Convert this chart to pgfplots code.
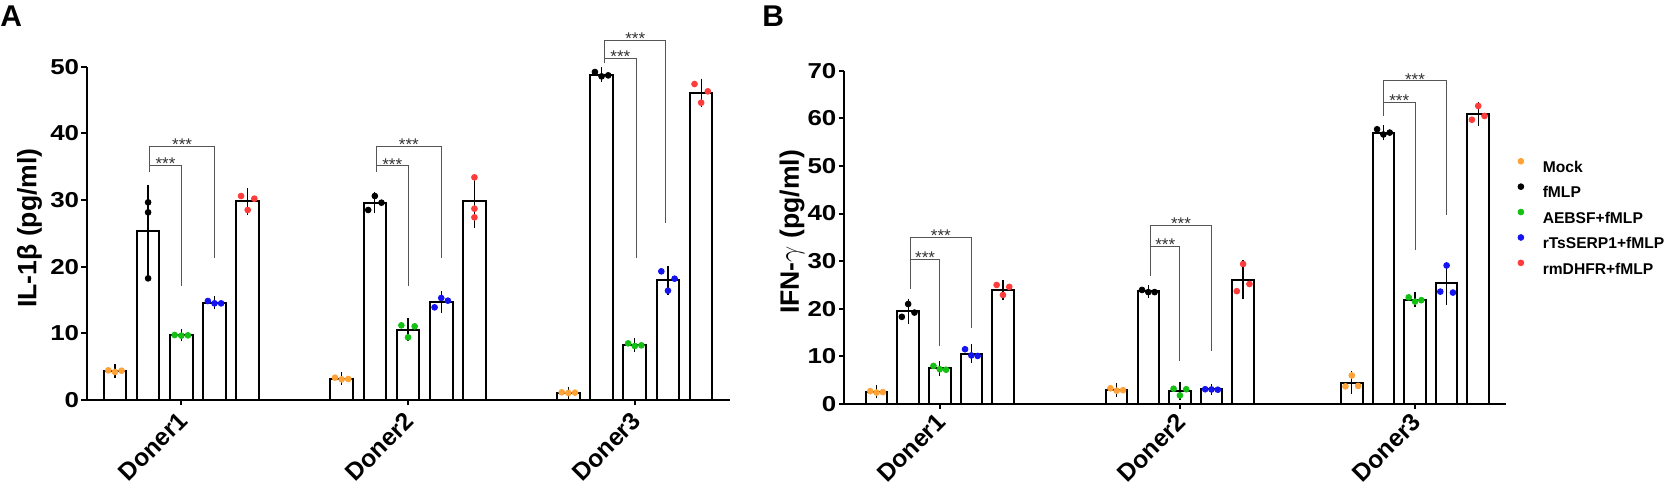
\documentclass[border=0pt]{standalone}
\usepackage{fontspec}
\setmainfont{Liberation Sans}
\newfontfamily\tickfont[FakeStretch=1.2]{Liberation Sans}
\usepackage{pgfplots}
\usepackage{pgfplotstable}
\pgfplotsset{compat=1.18}
\definecolor{cMock}{HTML}{FFA238}
\definecolor{cAEB}{HTML}{14C014}
\definecolor{cRTS}{HTML}{1414F0}
\definecolor{cRMD}{HTML}{FF3C3C}
\definecolor{cbr}{HTML}{555555}
\definecolor{cstar}{HTML}{333333}

% ---------- Panel A ----------
\pgfplotstableread{
x y e
0.85 4.35 0.2
1.85 25.4 6.1
2.85 9.7 0.1
3.85 14.6 0.2
4.85 29.8 1.2
7.68 3.2 0.15
8.68 29.6 0.8
9.68 10.55 0.95
10.68 14.7 0.8
11.68 29.85 3.2
14.51 1.1 0.1
15.51 48.8 0.3
16.51 8.25 0.2
17.51 17.95 1.35
18.51 46.1 1.3
}\barsA
\pgfplotstableread{
x y
0.65 4.45
0.85 4.2
1.05 4.4
7.48 3.35
7.68 3.1
7.88 3.15
14.31 1.15
14.51 1.05
14.71 1.1
}\mockA
\pgfplotstableread{
x y
1.85 29.65
1.85 28.15
1.85 18.25
8.48 28.5
8.68 30.6
8.88 29.6
15.31 49.2
15.51 48.55
15.71 48.7
}\fmlpA
\pgfplotstableread{
x y
2.65 9.75
2.85 9.65
3.05 9.7
9.48 11.2
9.68 9.4
9.88 11.05
16.31 8.5
16.51 8.1
16.71 8.2
}\aebA
\pgfplotstableread{
x y
3.65 14.85
3.85 14.5
4.05 14.5
10.48 13.9
10.68 15.3
10.88 14.9
17.31 19.3
17.51 16.4
17.71 18.2
}\rtsA
\pgfplotstableread{
x y
4.65 30.6
4.85 28.5
5.05 30.2
11.68 33.4
11.68 28.7
11.68 27.4
18.31 47.4
18.51 44.6
18.71 46.3
}\rmdA

% ---------- Panel B ----------
\pgfplotstableread{
x y e
1.03 2.55 0.25
2.03 19.5 1.5
3.03 7.5 0.4
4.03 10.6 0.8
5.03 24.0 0.95
8.63 3.0 0.3
9.63 23.65 0.25
10.63 2.7 0.8
11.63 3.05 0.05
12.63 26.1 3.0
16.07 4.5 1.2
17.07 57.0 0.5
18.07 21.9 0.4
19.07 25.35 3.4
20.07 60.9 1.4
}\barsB
\pgfplotstableread{
x y
0.83 2.7
1.03 2.4
1.23 2.5
8.43 3.3
8.63 2.8
8.83 2.9
15.87 3.7
16.07 6.0
16.27 3.8
}\mockB
\pgfplotstableread{
x y
1.83 18.3
2.03 21.0
2.23 19.2
9.43 23.95
9.63 23.5
9.83 23.5
16.87 57.7
17.07 56.6
17.27 57.0
}\fmlpB
\pgfplotstableread{
x y
2.83 8.0
3.03 7.3
3.23 7.2
10.43 3.2
10.63 1.8
10.83 3.1
17.87 22.4
18.07 21.5
18.27 21.8
}\aebB
\pgfplotstableread{
x y
3.83 11.5
4.03 10.2
4.23 10.1
11.43 3.1
11.63 3.05
11.83 3.0
18.87 23.6
19.07 29.1
19.27 23.4
}\rtsB
\pgfplotstableread{
x y
4.83 25.0
5.03 22.9
5.23 24.6
12.43 23.7
12.63 29.4
12.83 25.2
19.87 59.7
20.07 62.6
20.27 60.5
}\rmdB

\pgfplotsset{
  panel/.style={
    scale only axis,
    axis lines=left,
    axis line style={-, line width=1pt, black},
    xmin=0, ymin=0,
    clip=false,
    tick align=outside,
    major tick length=2.6pt,
    tick style={line width=1pt, black},
    /pgf/number format/assume math mode=true,
    yticklabel style={font=\tickfont\fontsize{10.8}{10.8}\selectfont\bfseries, inner sep=1pt},
    xticklabel style={rotate=45, anchor=north east, inner sep=1pt, xshift=-2.3pt, yshift=0.9pt,
      font=\fontsize{12.3}{12.3}\selectfont\bfseries},
    ylabel style={font=\fontsize{13.3}{13.3}\selectfont\bfseries, anchor=center},
  },
  barstyle/.style={ybar, bar width=0.68, fill=white, draw=black, line width=1pt, forget plot,
    error bars/y dir=both, error bars/y explicit,
    error bars/error mark=-,
    error bars/error bar style={line width=0.65pt, black},
    error bars/error mark options={line width=0.65pt, black, mark size=2.7pt}},
  dots/.style={only marks, mark=*, mark size=1.45pt, draw=#1, fill=#1, color=#1},
  br/.style={cbr, line width=0.5pt, forget plot},
}
\tikzset{stars/.style={anchor=base, yshift=-2.2pt, font=\fontsize{8.5}{8.5}\selectfont, text=cstar, inner sep=0pt}}

\begin{document}
\begin{tikzpicture}
\useasboundingbox (0,0) rectangle (834.5pt,243pt);
\node[anchor=north west, inner sep=0pt, font=\fontsize{15}{15}\selectfont\bfseries] at (0pt,240.5pt) {A};
\node[anchor=north west, inner sep=0pt, font=\fontsize{15}{15}\selectfont\bfseries] at (381pt,240.5pt) {B};

\begin{axis}[panel,
  at={(43.35pt,43pt)}, anchor=south west,
  width=321.5pt, height=166.65pt,
  xmax=19.37, ymax=50,
  ytick={0,10,20,30,40,50},
  xtick={2.85,9.68,16.51},
  xticklabels={Doner1,Doner2,Doner3},
  ylabel={IL-1β (pg/ml)},
  ylabel style={at={(axis description cs:-0.089,0.516)}},
]
\addplot[barstyle] table[x=x, y=y, y error=e] {\barsA};
\addplot[dots=cMock, forget plot] table[x=x,y=y] {\mockA};
\addplot[dots=black, forget plot] table[x=x,y=y] {\fmlpA};
\addplot[dots=cAEB, forget plot] table[x=x,y=y] {\aebA};
\addplot[dots=cRTS, forget plot] table[x=x,y=y] {\rtsA};
\addplot[dots=cRMD, forget plot] table[x=x,y=y] {\rmdA};
% brackets
\addplot[br] coordinates {(1.9,34.25) (1.9,38.1) (3.85,38.1) (3.85,21.25)};
\addplot[br] coordinates {(1.9,35.2) (2.85,35.2) (2.85,17.15)};
\addplot[br] coordinates {(8.73,34.25) (8.73,38.1) (10.68,38.1) (10.68,21.25)};
\addplot[br] coordinates {(8.73,35.15) (9.68,35.15) (9.68,17.15)};
\addplot[br] coordinates {(15.6,50.5) (15.6,54) (17.45,54) (17.45,26.6)};
\addplot[br] coordinates {(15.6,51.25) (16.55,51.25) (16.55,21.25)};
\node[stars] at (axis cs:2.875,38.1) {***};
\node[stars] at (axis cs:2.375,35.2) {***};
\node[stars] at (axis cs:9.705,38.1) {***};
\node[stars] at (axis cs:9.205,35.15) {***};
\node[stars] at (axis cs:16.525,54) {***};
\node[stars] at (axis cs:16.075,51.25) {***};
\end{axis}

\begin{axis}[panel,
  at={(422pt,41pt)}, anchor=south west,
  width=331pt, height=166.65pt,
  xmax=20.95, ymax=70,
  ytick={0,10,20,30,40,50,60,70},
  xtick={3.03,10.63,18.07},
  xticklabels={Doner1,Doner2,Doner3},
  xticklabel style={xshift=1.05pt, yshift=1.05pt},
  ylabel={IFN-$\gamma$ (pg/ml)},
  ylabel style={at={(axis description cs:-0.0785,0.516)}},
  legend style={at={(1.0181,0.737)}, anchor=north west, draw=none, fill=none,
    inner sep=0pt, outer sep=0pt, row sep=5.65pt, column sep=9.5pt,
    font=\fontsize{7.8}{7.8}\selectfont\bfseries,
    nodes={inner sep=0pt, text height=5.6pt, text depth=0pt}},
  legend cell align=left,
  legend image code/.code={\draw[#1] plot coordinates {(0pt,2.8pt)};},
]
\addplot[barstyle] table[x=x, y=y, y error=e] {\barsB};
\addplot[dots=cMock] table[x=x,y=y] {\mockB};
\addlegendentry{Mock}
\addplot[dots=black] table[x=x,y=y] {\fmlpB};
\addlegendentry{fMLP}
\addplot[dots=cAEB] table[x=x,y=y] {\aebB};
\addlegendentry{AEBSF+fMLP}
\addplot[dots=cRTS] table[x=x,y=y] {\rtsB};
\addlegendentry{rTsSERP1+fMLP}
\addplot[dots=cRMD] table[x=x,y=y] {\rmdB};
\addlegendentry{rmDHFR+fMLP}
% brackets
\addplot[br] coordinates {(2.1,24.1) (2.1,35.0) (4.03,35.0) (4.03,16.0)};
\addplot[br] coordinates {(2.1,30.4) (3.03,30.4) (3.03,12.1)};
\addplot[br] coordinates {(9.7,26.8) (9.7,37.5) (11.63,37.5) (11.63,11.1)};
\addplot[br] coordinates {(9.7,33.1) (10.63,33.1) (10.63,9.0)};
\addplot[br] coordinates {(17.07,60.4) (17.07,67.9) (19.07,67.9) (19.07,39.6)};
\addplot[br] coordinates {(17.07,63.3) (18.07,63.3) (18.07,32.3)};
\node[stars] at (axis cs:3.065,35.0) {***};
\node[stars] at (axis cs:2.565,30.4) {***};
\node[stars] at (axis cs:10.665,37.5) {***};
\node[stars] at (axis cs:10.165,33.1) {***};
\node[stars] at (axis cs:18.07,67.9) {***};
\node[stars] at (axis cs:17.57,63.3) {***};
\end{axis}
\end{tikzpicture}
\end{document}
